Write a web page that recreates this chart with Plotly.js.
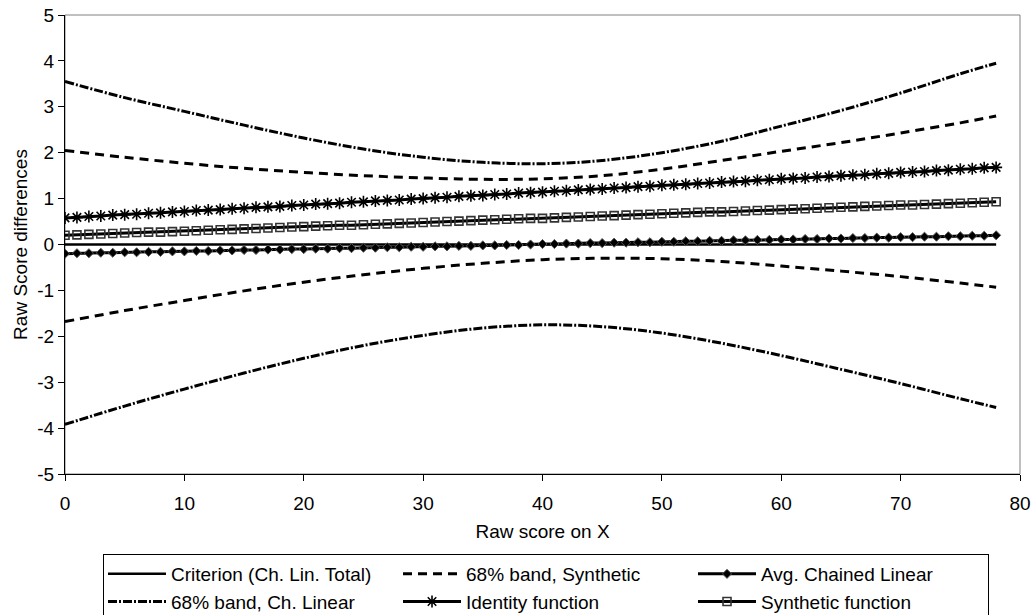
<!DOCTYPE html>
<html>
<head>
<meta charset="utf-8">
<script src="https://cdn.plot.ly/plotly-3.0.1.min.js"></script>
<style>html,body{margin:0;padding:0;background:#fff;}#chart{width:1033px;height:615px;}</style>
</head>
<body>
<div id="chart"></div>
<script>
// Raw scores (x) for marker series
const scoresX = [0,1,2,3,4,5,6,7,8,9,10,11,12,13,14,15,16,17,18,19,20,21,22,23,24,25,26,27,28,29,30,31,32,33,34,35,36,37,38,39,40,41,42,43,44,45,46,47,48,49,50,51,52,53,54,55,56,57,58,59,60,61,62,63,64,65,66,67,68,69,70,71,72,73,74,75,76,77,78];

const identityY = [0.58,0.59,0.61,0.62,0.64,0.65,0.66,0.68,0.69,0.71,0.72,0.74,0.75,0.76,0.78,0.79,0.81,0.82,0.83,0.85,0.86,0.88,0.89,0.90,0.92,0.93,0.95,0.96,0.97,0.99,1.00,1.02,1.03,1.05,1.06,1.07,1.09,1.10,1.12,1.13,1.14,1.16,1.17,1.19,1.20,1.21,1.23,1.24,1.26,1.27,1.29,1.30,1.31,1.33,1.34,1.36,1.37,1.38,1.40,1.41,1.43,1.44,1.45,1.47,1.48,1.50,1.51,1.52,1.54,1.55,1.57,1.58,1.59,1.61,1.62,1.64,1.65,1.67,1.68];

const syntheticY = [0.20,0.21,0.22,0.23,0.24,0.25,0.26,0.27,0.27,0.28,0.29,0.30,0.31,0.32,0.33,0.34,0.35,0.36,0.37,0.38,0.39,0.40,0.41,0.42,0.42,0.43,0.44,0.45,0.46,0.47,0.48,0.49,0.50,0.51,0.52,0.53,0.54,0.55,0.56,0.57,0.57,0.58,0.59,0.60,0.61,0.62,0.63,0.64,0.65,0.66,0.67,0.68,0.69,0.70,0.71,0.71,0.72,0.73,0.74,0.75,0.76,0.77,0.78,0.79,0.80,0.81,0.82,0.83,0.84,0.85,0.86,0.86,0.87,0.88,0.89,0.90,0.91,0.92,0.93];

const avgChainedY = [-0.20,-0.19,-0.19,-0.18,-0.18,-0.17,-0.17,-0.16,-0.16,-0.15,-0.15,-0.14,-0.14,-0.13,-0.13,-0.12,-0.12,-0.11,-0.11,-0.10,-0.10,-0.09,-0.09,-0.08,-0.08,-0.07,-0.07,-0.06,-0.06,-0.05,-0.05,-0.04,-0.04,-0.03,-0.03,-0.02,-0.02,-0.01,-0.01,0.00,0.01,0.01,0.02,0.02,0.03,0.03,0.04,0.04,0.05,0.05,0.06,0.06,0.07,0.07,0.08,0.08,0.09,0.09,0.10,0.10,0.11,0.11,0.12,0.12,0.13,0.13,0.14,0.14,0.15,0.15,0.16,0.16,0.17,0.17,0.18,0.18,0.19,0.19,0.20];

// Criterion
const criterionX = [0, 78];
const criterionY = [0, 0];

// Band curves
const bandX = [0,5,10,15,20,25,30,35,40,45,50,55,60,65,70,75,78];
const chLinUpper = [3.55,3.20,2.90,2.60,2.32,2.08,1.90,1.79,1.76,1.83,2.00,2.25,2.58,2.92,3.30,3.72,3.95];
const chLinLower = [-3.92,-3.52,-3.15,-2.80,-2.48,-2.20,-1.98,-1.82,-1.75,-1.79,-1.93,-2.15,-2.42,-2.72,-3.03,-3.36,-3.55];
const synUpper = [2.05,1.90,1.77,1.66,1.57,1.50,1.45,1.42,1.43,1.50,1.64,1.83,2.03,2.22,2.43,2.65,2.80];
const synLower = [-1.68,-1.44,-1.22,-1.01,-0.82,-0.66,-0.52,-0.41,-0.33,-0.30,-0.31,-0.37,-0.47,-0.58,-0.70,-0.84,-0.93];

const xTicks = [0,10,20,30,40,50,60,70,80];
const yTicks = [-5,-4,-3,-2,-1,0,1,2,3,4,5];

const FONT = "Liberation Sans, Arial, sans-serif";
const synDash = "9px,6px";
const chDash = "9px,2px,2px,2px";

const traces = [
  {x: criterionX, y: criterionY, name: "Criterion (Ch. Lin. Total)", mode: "lines",
   line: {color: "#000", width: 2.5}, legendgroup: "crit"},
  {x: bandX, y: synUpper, name: "68% band, Synthetic", mode: "lines",
   line: {color: "#000", width: 3, dash: synDash, shape: "spline"}, legendgroup: "syn"},
  {x: scoresX, y: avgChainedY, name: "Avg. Chained Linear", mode: "lines+markers",
   line: {color: "#000", width: 3}, marker: {symbol: "diamond", size: 7, color: "#000", line: {color: "#555", width: 1}}, legendgroup: "avg"},
  {x: bandX, y: chLinUpper, name: "68% band, Ch. Linear", mode: "lines",
   line: {color: "#000", width: 3, dash: chDash, shape: "spline"}, legendgroup: "ch"},
  {x: scoresX, y: identityY, name: "Identity function", mode: "lines+markers",
   line: {color: "#000", width: 3}, marker: {symbol: "asterisk-open", size: 10, color: "#000", line: {color: "#000", width: 1.6}}, legendgroup: "id"},
  {x: scoresX, y: syntheticY, name: "Synthetic function", mode: "lines+markers",
   line: {color: "#000", width: 3}, marker: {symbol: "square-open", size: 8, color: "#333", line: {color: "#333", width: 1.6}}, legendgroup: "sf"},
  {x: bandX, y: synLower, name: "68% band, Synthetic", mode: "lines", showlegend: false,
   line: {color: "#000", width: 3, dash: synDash, shape: "spline"}, legendgroup: "syn"},
  {x: bandX, y: chLinLower, name: "68% band, Ch. Linear", mode: "lines", showlegend: false,
   line: {color: "#000", width: 3, dash: chDash, shape: "spline"}, legendgroup: "ch"}
];

const layout = {
  width: 1033, height: 615,
  margin: {l: 65, r: 13, t: 15, b: 141, autoexpand: false},
  paper_bgcolor: "#fff", plot_bgcolor: "#fff",
  font: {family: FONT, size: 19, color: "#000"},
  showlegend: true,
  xaxis: {
    range: [0, 80], tickvals: xTicks, ticktext: xTicks.map(String),
    showgrid: false, zeroline: false, showline: true, linecolor: "#000", linewidth: 1,
    ticks: "outside", ticklen: 6, tickcolor: "#000", ticklabelstandoff: 6,
    tickfont: {family: FONT, size: 19}, fixedrange: true, automargin: false,
    title: {text: "Raw score on X", font: {family: FONT, size: 19}, standoff: 11}
  },
  yaxis: {
    range: [-5, 5], tickvals: yTicks, ticktext: yTicks.map(String),
    showgrid: false, zeroline: false, showline: true, linecolor: "#000", linewidth: 1,
    ticks: "outside", ticklen: 6, tickcolor: "#000",
    tickfont: {family: FONT, size: 19}, fixedrange: true, automargin: false,
    title: {text: "Raw Score differences", font: {family: FONT, size: 19}, standoff: 4}
  },
  shapes: [
    {type: "rect", xref: "paper", yref: "paper", x0: 0, x1: 1, y0: 0, y1: 1,
     line: {color: "#808080", width: 1}, layer: "below"}
  ],
  legend: {
    orientation: "h", x: 0.0398, xanchor: "left", y: -0.1743, yanchor: "top",
    bordercolor: "#000", borderwidth: 1, bgcolor: "#fff",
    entrywidth: 222, entrywidthmode: "pixels",
    font: {family: FONT, size: 19}, tracegroupgap: 0, itemwidth: 58
  }
};

Plotly.newPlot("chart", traces, layout, {staticPlot: true, displayModeBar: false});
</script>
</body>
</html>
